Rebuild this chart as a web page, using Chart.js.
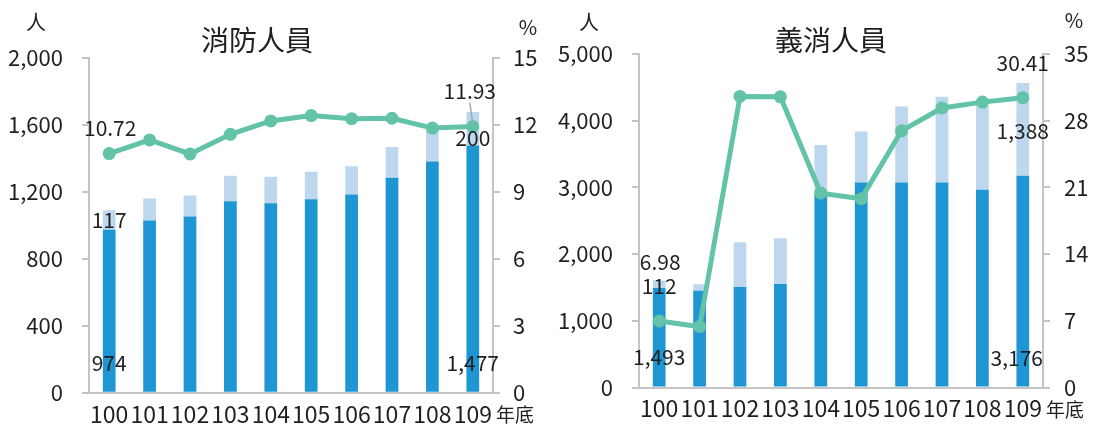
<!DOCTYPE html>
<html>
<head>
<meta charset="utf-8">
<script src="https://cdn.jsdelivr.net/npm/chart.js@4.4.1/dist/chart.umd.min.js"></script>
<style>
  body { margin: 0; background: #fff; }
  .box { position: absolute; top: 0; height: 425px; }
</style>
</head>
<body>
<div class="box" style="left:0;width:550px"><canvas id="chart1"></canvas></div>
<div class="box" style="left:550px;width:547px"><canvas id="chart2"></canvas></div>
<script>
// year-end (ROC years)
const years = ['100', '101', '102', '103', '104', '105', '106', '107', '108', '109'];

// 消防人員
const fireMale = [974, 1029, 1053, 1144, 1132, 1156, 1184, 1285, 1381, 1477];
const fireFemale = [117, 131, 125, 153, 159, 165, 169, 184, 190, 200];
const fireFemalePct = [10.72, 11.33, 10.70, 11.58, 12.18, 12.42, 12.28, 12.30, 11.86, 11.93];
const fireTicksLeft = [0, 400, 800, 1200, 1600, 2000];
const fireTicksRight = [0, 3, 6, 9, 12, 15];

// 義消人員
const volMale = [1493, 1452, 1508, 1553, 2914, 3073, 3073, 3073, 2964, 3176];
const volFemale = [112, 96, 671, 686, 720, 766, 1141, 1286, 1264, 1388];
const volFemalePct = [6.98, 6.39, 30.55, 30.51, 20.40, 19.80, 26.94, 29.33, 29.95, 30.41];
const volTicksLeft = [0, 1000, 2000, 3000, 4000, 5000];
const volTicksRight = [0, 7, 14, 21, 28, 35];

const FONT = '"Noto Sans CJK TC", "Noto Sans", sans-serif';
const TEXT = '#1f1f1f';
const AXIS = '#c4c4c4';
const DARK = '#1e96d4';
const LIGHT = '#bdd7ee';
const GREEN = '#62c3a8';

// title, unit labels and the data labels of the first/last year
function overlay(spec) {
  return {
    id: 'overlay',
    afterDatasetsDraw(chart) {
      const ctx = chart.ctx;
      ctx.save();
      ctx.font = '21px ' + FONT;
      ctx.fillStyle = TEXT;
      ctx.textAlign = 'center';
      ctx.textBaseline = 'middle';
      spec.labels.forEach(it => {
        const el = chart.getDatasetMeta(it.ds).data[it.i];
        const val = chart.data.datasets[it.ds].data[it.i];
        const text = it.ds === 2 ? val.toFixed(2) : val.toLocaleString('en-US');
        const x = el.x + (it.dx || 0);
        let y;
        if (it.at === 'base') y = el.base + it.dy;
        else if (it.at === 'mid') y = (el.y + el.base) / 2 + it.dy;
        else y = el.y + it.dy;
        if (it.leader) {
          ctx.strokeStyle = '#a6a6a6';
          ctx.lineWidth = 1.5;
          ctx.beginPath();
          ctx.moveTo(x, y + 12);
          ctx.lineTo(el.x, el.y - 2);
          ctx.stroke();
        }
        ctx.fillText(text, x, y);
      });
      ctx.restore();
    },
    afterDraw(chart) {
      const ctx = chart.ctx;
      ctx.save();
      ctx.fillStyle = TEXT;
      ctx.textAlign = 'center';
      ctx.textBaseline = 'middle';
      ctx.font = '28px ' + FONT;
      ctx.fillText(spec.title, spec.titleX, 40);
      ctx.font = '20px ' + FONT;
      ctx.fillText('人', spec.unitL[0], spec.unitL[1]);
      ctx.fillText('%', spec.unitR[0], spec.unitR[1]);
      ctx.font = '19px ' + FONT;
      ctx.fillText('年底', spec.yearEnd[0], spec.yearEnd[1]);
      ctx.restore();
    }
  };
}

function makeChart(id, male, female, pct, ticksL, ticksR, box, spec) {
  const yFont = { family: FONT, size: 22 };
  const xFont = { family: FONT, size: 23 };
  const yAxis = (pos, ticks, width, pad, fmt) => ({
    position: pos,
    stacked: pos === 'left',
    min: ticks[0],
    max: ticks[ticks.length - 1],
    afterBuildTicks: s => { s.ticks = ticks.map(v => ({ value: v })); },
    afterFit: s => { s.width = width; },
    grid: { drawOnChartArea: false, drawTicks: true, tickLength: 7, color: AXIS, lineWidth: 2 },
    border: { color: AXIS, width: 2 },
    ticks: { font: yFont, color: TEXT, padding: pad, callback: fmt }
  });
  return new Chart(document.getElementById(id), {
    type: 'bar',
    data: {
      labels: years,
      datasets: [
        { data: male, backgroundColor: DARK, yAxisID: 'y', order: 1,
          barPercentage: 0.315, categoryPercentage: 1 },
        { data: female, backgroundColor: LIGHT, yAxisID: 'y', order: 1,
          barPercentage: 0.315, categoryPercentage: 1 },
        { type: 'line', data: pct, yAxisID: 'y1', order: 0,
          borderColor: GREEN, borderWidth: 5, pointRadius: 6.5,
          pointBackgroundColor: GREEN, pointBorderWidth: 0, tension: 0 }
      ]
    },
    options: {
      responsive: true,
      maintainAspectRatio: false,
      animation: false,
      layout: { padding: { top: box.top, left: 0, right: 0, bottom: 0 } },
      plugins: { legend: { display: false }, tooltip: { enabled: false } },
      scales: {
        x: {
          stacked: true,
          offset: true,
          afterFit: s => { s.height = box.xh; },
          grid: { display: false, drawTicks: false },
          border: { display: true, color: AXIS, width: 2 },
          ticks: { font: xFont, color: TEXT, padding: box.xpad, maxRotation: 0, autoSkip: false }
        },
        y: yAxis('left', ticksL, box.left, box.padL, v => v.toLocaleString('en-US')),
        y1: yAxis('right', ticksR, box.right, box.padR, v => v)
      }
    },
    plugins: [overlay(spec)]
  });
}

makeChart('chart1', fireMale, fireFemale, fireFemalePct, fireTicksLeft, fireTicksRight,
  { top: 58, xh: 32, xpad: 8, left: 89, right: 57, padL: 19, padR: 13 },
  {
    title: '消防人員', titleX: 257, unitL: [36, 22], unitR: [528, 27], yearEnd: [515, 415],
    labels: [
      { ds: 0, i: 0, at: 'base', dy: -29 },
      { ds: 1, i: 0, at: 'mid', dy: 0 },
      { ds: 2, i: 0, at: 'point', dx: 1, dy: -26 },
      { ds: 0, i: 9, at: 'base', dy: -29 },
      { ds: 1, i: 9, at: 'mid', dy: 9 },
      { ds: 2, i: 9, at: 'point', dx: -3, dy: -36, leader: true }
    ]
  });

makeChart('chart2', volMale, volFemale, volFemalePct, volTicksLeft, volTicksRight,
  { top: 54, xh: 37.5, xpad: 7, left: 89, right: 54, padL: 19, padR: 14 },
  {
    title: '義消人員', titleX: 281, unitL: [39, 22], unitR: [524, 20], yearEnd: [515, 410],
    labels: [
      { ds: 0, i: 0, at: 'base', dy: -29 },
      { ds: 1, i: 0, at: 'mid', dy: 2 },
      { ds: 2, i: 0, at: 'point', dx: 1, dy: -59 },
      { ds: 0, i: 9, at: 'base', dx: -6, dy: -28 },
      { ds: 1, i: 9, at: 'mid', dy: 2 },
      { ds: 2, i: 9, at: 'point', dy: -35 }
    ]
  });
</script>
</body>
</html>
